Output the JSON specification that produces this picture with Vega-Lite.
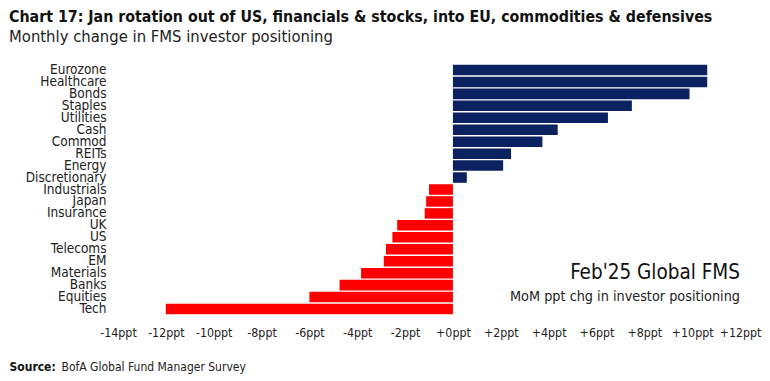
{
  "$schema": "https://vega.github.io/schema/vega-lite/v6.json",
  "autosize": "none",
  "width": 622,
  "height": 251,
  "padding": {"left": 118, "top": 64, "right": 30, "bottom": 66},
  "background": "white",
  "config": {
    "view": {"stroke": null},
    "font": "DejaVu Sans Condensed, sans-serif"
  },
  "title": {
    "text": "Chart 17: Jan rotation out of US, financials & stocks, into EU, commodities & defensives",
    "subtitle": "Monthly change in FMS investor positioning",
    "anchor": "start",
    "frame": "group",
    "dx": -109,
    "offset": 16,
    "fontSize": 15.8,
    "fontWeight": "bold",
    "color": "#111111",
    "subtitleFontSize": 16.5,
    "subtitleColor": "#222222",
    "subtitlePadding": 3,
    "font": "DejaVu Sans Condensed, sans-serif",
    "subtitleFont": "DejaVu Sans Condensed, sans-serif"
  },
  "datasets": {
    "bars": [
      {"cat": "Eurozone", "v": 10.63},
      {"cat": "Healthcare", "v": 10.63},
      {"cat": "Bonds", "v": 9.89},
      {"cat": "Staples", "v": 7.48},
      {"cat": "Utilities", "v": 6.48},
      {"cat": "Cash", "v": 4.38},
      {"cat": "Commod", "v": 3.74},
      {"cat": "REITs", "v": 2.43},
      {"cat": "Energy", "v": 2.1},
      {"cat": "Discretionary", "v": 0.58},
      {"cat": "Industrials", "v": -1.0},
      {"cat": "Japan", "v": -1.12},
      {"cat": "Insurance", "v": -1.18},
      {"cat": "UK", "v": -2.33},
      {"cat": "US", "v": -2.53},
      {"cat": "Telecoms", "v": -2.8},
      {"cat": "EM", "v": -2.89},
      {"cat": "Materials", "v": -3.84},
      {"cat": "Banks", "v": -4.74},
      {"cat": "Equities", "v": -6.0},
      {"cat": "Tech", "v": -12.0}
    ],
    "notes": [
      {"cat": "Materials", "v": 12, "t": "Feb'25 Global FMS", "kind": "big"},
      {"cat": "Equities", "v": 12, "t": "MoM ppt chg in investor positioning", "kind": "small"}
    ]
  },
  "resolve": {"axis": {"x": "independent"}},
  "layer": [
    {
      "data": {"name": "bars"},
      "mark": {"type": "bar"},
      "encoding": {
        "y": {
          "field": "cat",
          "type": "nominal",
          "scale": {
            "domain": ["Eurozone", "Healthcare", "Bonds", "Staples", "Utilities", "Cash", "Commod", "REITs", "Energy", "Discretionary", "Industrials", "Japan", "Insurance", "UK", "US", "Telecoms", "EM", "Materials", "Banks", "Equities", "Tech"],
            "paddingInner": 0.12,
            "paddingOuter": 0.06
          },
          "axis": {
            "title": null,
            "domain": false,
            "ticks": false,
            "labelPadding": 12,
            "labelFontSize": 13.5,
            "labelColor": "#222222",
            "labelFont": "DejaVu Sans Condensed, sans-serif"
          }
        },
        "x": {
          "field": "v",
          "type": "quantitative",
          "scale": {"domain": [-14, 12], "nice": false, "zero": false},
          "axis": {
            "orient": "bottom",
            "title": "Source:",
            "titleFontSize": 12,
            "titleFontWeight": "bold",
            "titleColor": "#111111",
            "titleAnchor": null,
            "titleAlign": "left",
            "titleBaseline": "middle",
            "titleX": -109,
            "titleY": 51,
            "titleFont": "DejaVu Sans Condensed, sans-serif",
            "values": [-14, -12, -10, -8, -6, -4, -2, 0, 2, 4, 6, 8, 10, 12],
            "labelExpr": "datum.value > 0 ? '+' + datum.value + 'ppt' : (datum.value == 0 ? '+0ppt' : datum.value + 'ppt')",
            "labelFlush": false,
            "grid": false,
            "domain": false,
            "ticks": false,
            "labelPadding": 11,
            "labelFontSize": 12.3,
            "labelColor": "#222222",
            "labelFont": "DejaVu Sans Condensed, sans-serif",
            "labelOverlap": false
          }
        },
        "color": {
          "condition": {"test": "datum.v < 0", "value": "#FF0000"},
          "value": "#0B2160"
        }
      }
    },
    {
      "data": {"name": "notes"},
      "transform": [{"filter": "datum.kind == 'big'"}],
      "mark": {"type": "text", "align": "right", "baseline": "middle", "fontSize": 20.5, "color": "#111111", "font": "DejaVu Sans Condensed, sans-serif"},
      "encoding": {
        "y": {"field": "cat", "type": "nominal"},
        "x": {
          "field": "v",
          "type": "quantitative",
          "axis": {
            "orient": "bottom",
            "title": "BofA Global Fund Manager Survey",
            "titleFontSize": 12,
            "titleFontWeight": "normal",
            "titleColor": "#222222",
            "titleAnchor": null,
            "titleAlign": "left",
            "titleBaseline": "middle",
            "titleX": -57,
            "titleY": 51,
            "titleFont": "DejaVu Sans Condensed, sans-serif",
            "labels": false,
            "ticks": false,
            "domain": false,
            "grid": false
          }
        },
        "text": {"field": "t"}
      }
    },
    {
      "data": {"name": "notes"},
      "transform": [{"filter": "datum.kind == 'small'"}],
      "mark": {"type": "text", "align": "right", "baseline": "middle", "fontSize": 14.3, "color": "#222222", "font": "DejaVu Sans Condensed, sans-serif"},
      "encoding": {
        "y": {"field": "cat", "type": "nominal"},
        "x": {"field": "v", "type": "quantitative", "axis": null},
        "text": {"field": "t"}
      }
    },
    {
      "mark": {"type": "rule", "color": "#444444", "strokeWidth": 1.5},
      "encoding": {"x": {"datum": 0, "type": "quantitative", "axis": null}}
    }
  ]
}
